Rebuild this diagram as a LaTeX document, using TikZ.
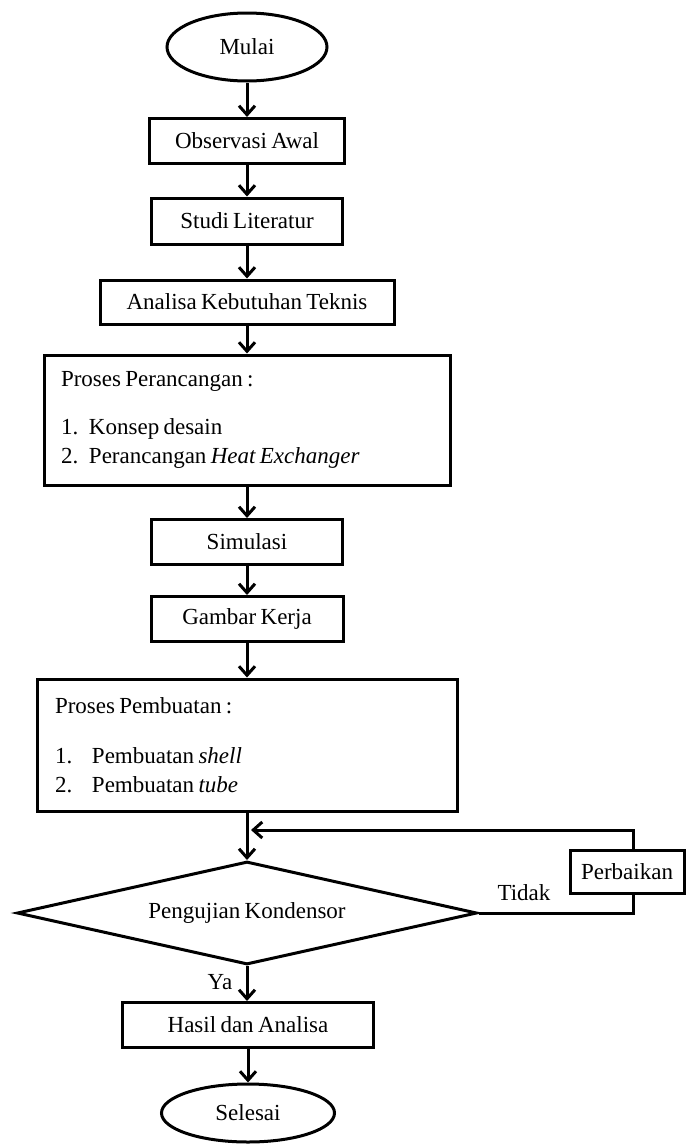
\documentclass[tikz,border=0pt]{standalone}
\usepackage{fontspec}
\setmainfont[WordSpace=0.75]{Liberation Serif}
\usetikzlibrary{arrows.meta, shapes.geometric}
\tikzset{
	kotak/.style={draw, line width=3pt, fill=white, inner sep=0pt, align=center},
	terminal/.style={draw, ellipse, line width=3pt, inner sep=0pt},
	keputusan/.style={draw, diamond, line width=3pt, inner sep=0pt},
	panah/.style={-{Straight Barb[length=9pt, width=16pt]}, line width=3pt}
}

\begin{document}
\begin{tikzpicture}[x=1pt, y=-1pt, every node/.style={font=\fontsize{23}{29}\selectfont}]
		\useasboundingbox (0,0) rectangle (687,1146);
		
		\node[terminal, minimum width=160pt, minimum height=68pt] (mulai) at (247,47) {Mulai};
		\node[kotak, minimum width=195pt, minimum height=45pt] (observasi) at (247,141) {Observasi Awal};
		\node[kotak, minimum width=191pt, minimum height=46pt] (studi) at (247,221) {Studi Literatur};
		\node[kotak, minimum width=294pt, minimum height=44pt] (analisa) at (247,302) {Analisa Kebutuhan Teknis};
		
		\node[kotak, align=flush left, text width=372pt, inner xsep=17pt, minimum height=130pt] (rancang) at (247,420)
			{Proses Perancangan :\\[19pt]
			\makebox[28pt][l]{1.}Konsep desain\\
			\makebox[28pt][l]{2.}Perancangan \textit{Heat Exchanger}};
		
		\node[kotak, minimum width=191pt, minimum height=45pt] (simulasi) at (247,542) {Simulasi};
		\node[kotak, minimum width=192pt, minimum height=45pt] (gambar) at (247,619) {Gambar Kerja};
		
		\node[kotak, align=flush left, text width=384pt, inner xsep=18pt, minimum height=132pt] (pembuatan) at (247,745)
			{Proses Pembuatan :\\[21pt]
			\makebox[37pt][l]{1.}Pembuatan \textit{shell}\\
			\makebox[37pt][l]{2.}Pembuatan \textit{tube}};
		
		\node[keputusan, aspect=4.47, minimum width=460pt, minimum height=103pt] (uji) at (247,913) {Pengujian Kondensor};
		\node[kotak, minimum width=114pt, minimum height=43pt] (perbaikan) at (627,872) {Perbaikan};
		\node[kotak, minimum width=251pt, minimum height=45pt] (hasil) at (248,1025) {Hasil dan Analisa};
		\node[terminal, minimum width=173pt, minimum height=58pt] (selesai) at (248,1113) {Selesai};
		
		\node (tidak) at (524,893) {Tidak};
		\node (ya) at (220,982) {Ya};
		
		\draw[panah] (mulai) -- (observasi);
		\draw[panah] (observasi) -- (studi);
		\draw[panah] (studi) -- (analisa);
		\draw[panah] (analisa) -- (rancang);
		\draw[panah] (rancang) -- (simulasi);
		\draw[panah] (simulasi) -- (gambar);
		\draw[panah] (gambar) -- (pembuatan);
		\draw[panah] (pembuatan) -- (uji);
		\draw[panah] (uji.south) -- (uji.south |- hasil.north);
		\draw[panah] (hasil) -- (selesai);
		
		% jalur perbaikan
		\coordinate (belok) at (633,913);
		\coordinate (atas) at (633,830);
		\draw[line width=3pt] (uji.east) -- (belok) -- (belok |- perbaikan.south);
		\draw[panah, shorten >=4pt] (belok |- perbaikan.north) -- (atas) -- (pembuatan.south |- atas);
	\end{tikzpicture}
\end{document}
